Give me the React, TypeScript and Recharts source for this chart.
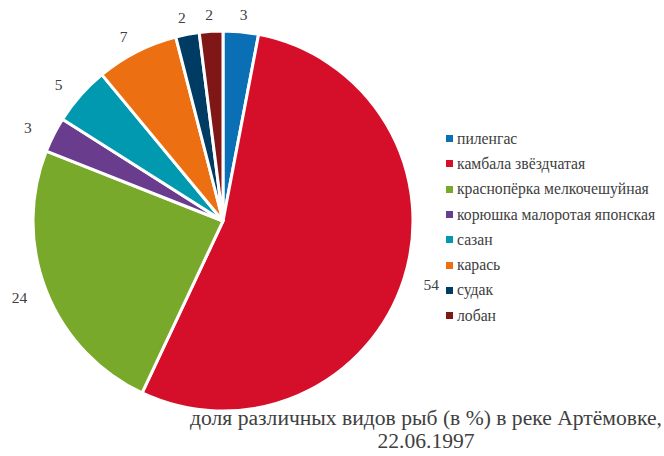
import React from 'react'
import { PieChart, Pie, Cell, Legend } from 'recharts'

const species = [
  'пиленгас',
  'камбала звёздчатая',
  'краснопёрка мелкочешуйная',
  'корюшка малоротая японская',
  'сазан',
  'карась',
  'судак',
  'лобан',
]
const shares = [3, 54, 24, 3, 5, 7, 2, 2]
const colors = ['#0B6FB6', '#D50F2A', '#78A92B', '#693C8E', '#0099AF', '#EC6F12', '#003B63', '#7F1717']

const titleLines = ['доля различных видов рыб (в %) в реке Артёмовке,', '22.06.1997']

const data = species.map((name, i) => ({ name, value: shares[i] }))

const RAD = Math.PI / 180
const FONT = '"Liberation Serif", "Times New Roman", serif'

// labels sit a bit further out sideways than above/below, like the original
function renderLabel(props: any) {
  const { cx, cy, midAngle, outerRadius, value } = props
  const x = cx + (outerRadius + 29) * Math.cos(-midAngle * RAD)
  const y = cy + (outerRadius + 17) * Math.sin(-midAngle * RAD)
  return (
    <text x={x} y={y} textAnchor="middle" dominantBaseline="central" fill="#404040" fontSize={15.5} fontFamily={FONT}>
      {value}
    </text>
  )
}

function LegendList() {
  return (
    <div style={{ fontFamily: FONT, fontSize: 15.7, color: '#404040' }}>
      {species.map((name, i) => (
        <div key={name} style={{ display: 'flex', alignItems: 'center', height: 25.3 }}>
          <span style={{ display: 'inline-block', width: 7, height: 7, background: colors[i], marginRight: 4 }} />
          <span>{name}</span>
        </div>
      ))}
    </div>
  )
}

export default function App() {
  return (
    <div style={{ position: 'absolute', left: 0, top: 0, width: 664, height: 456, background: '#fff' }}>
      <PieChart width={664} height={456} margin={{ top: 0, right: 0, bottom: 0, left: 0 }}>
        <Pie
          data={data}
          dataKey="value"
          nameKey="name"
          cx={223}
          cy={221}
          outerRadius={190}
          startAngle={90}
          endAngle={-270}
          stroke="#fff"
          strokeWidth={3}
          label={renderLabel}
          labelLine={false}
          isAnimationActive={false}
        >
          {data.map((d, i) => (
            <Cell key={d.name} fill={colors[i]} />
          ))}
        </Pie>
        <Legend
          layout="vertical"
          content={<LegendList />}
          wrapperStyle={{ position: 'absolute', left: 446, top: 126, width: 218 }}
        />
      </PieChart>
      <div
        style={{
          position: 'absolute',
          left: 176,
          top: 407,
          width: 500,
          textAlign: 'center',
          fontFamily: FONT,
          fontSize: 21.6,
          lineHeight: '23px',
          color: '#404040',
          whiteSpace: 'nowrap',
        }}
      >
        {titleLines.map((t) => (
          <div key={t}>{t}</div>
        ))}
      </div>
    </div>
  )
}
